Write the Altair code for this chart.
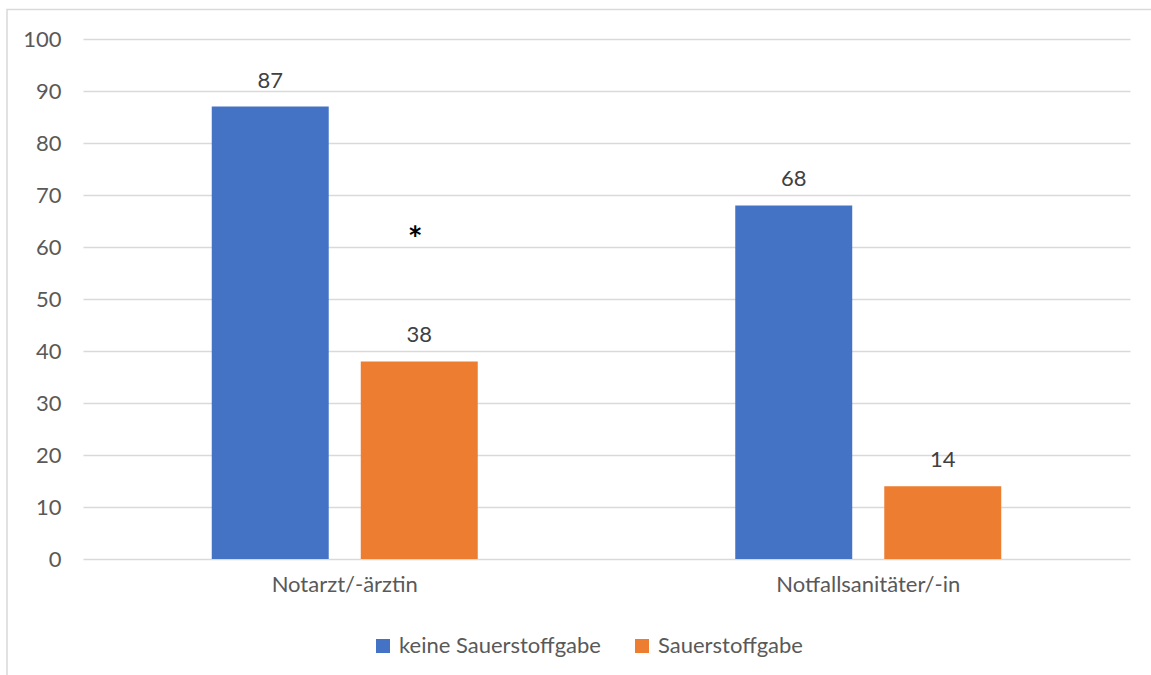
import altair as alt
import pandas as pd

categories = ["Notarzt/-ärztin", "Notfallsanitäter/-in"]
series = ["keine Sauerstoffgabe", "Sauerstoffgabe"]
values_keine = [87, 68]
values_sauer = [38, 14]
colors = ["#4472C4", "#ED7D31"]
y_ticks = [0, 10, 20, 30, 40, 50, 60, 70, 80, 90, 100]

annot_category = ["Notarzt/-ärztin"]
annot_series = ["Sauerstoffgabe"]
annot_value = [63]
annot_text = ["*"]

rows = []
for i, c in enumerate(categories):
    rows.append({"Kategorie": c, "Gruppe": series[0], "Wert": values_keine[i]})
    rows.append({"Kategorie": c, "Gruppe": series[1], "Wert": values_sauer[i]})
df = pd.DataFrame(rows)
annot = pd.DataFrame({"Kategorie": annot_category, "Gruppe": annot_series,
                      "Wert": annot_value, "Text": annot_text})

FONT = "Lato"
FS = 22
TXT = "#595959"
W, H = 1047, 520

x_enc = alt.X("Kategorie:N", sort=categories,
              scale=alt.Scale(paddingInner=0, paddingOuter=0),
              axis=alt.Axis(title=None, labelAngle=0, domain=False, ticks=False,
                            labelFont=FONT, labelFontSize=FS, labelColor=TXT,
                            labelLimit=0, labelPadding=15))
xo_enc = alt.XOffset("Gruppe:N", sort=series,
                     scale=alt.Scale(paddingInner=0.215, paddingOuter=0.864))
y_scale = alt.Scale(domain=[0, 100], nice=False)

border = alt.Chart(pd.DataFrame({"a": [0]})).mark_rect(
    fill=None, stroke="#D9D9D9", strokeWidth=1.5
).encode(x=alt.value(-76), x2=alt.value(1080), y=alt.value(-29.5), y2=alt.value(700))

bars = alt.Chart(df).mark_bar().encode(
    x=x_enc,
    xOffset=xo_enc,
    y=alt.Y("Wert:Q", scale=y_scale,
            axis=alt.Axis(title=None, values=y_ticks, domain=False, ticks=False,
                          grid=True, gridColor="#D9D9D9", gridWidth=1.5,
                          labelFont=FONT, labelFontSize=FS, labelColor=TXT,
                          labelPadding=22)),
    color=alt.Color("Gruppe:N", sort=series,
                    scale=alt.Scale(domain=series, range=colors),
                    legend=alt.Legend(title=None, orient="none", direction="horizontal",
                                      legendX=289, legendY=596, padding=0,
                                      symbolType="square", symbolSize=196,
                                      symbolStrokeWidth=0, symbolOpacity=1,
                                      labelFont=FONT, labelFontSize=FS, labelColor=TXT,
                                      labelLimit=0, labelOffset=5, columnPadding=30)),
)

labels = alt.Chart(df).mark_text(font=FONT, fontSize=FS, color="#404040",
                                 baseline="alphabetic", dy=-19).encode(
    x=x_enc, xOffset=xo_enc,
    y=alt.Y("Wert:Q", scale=y_scale),
    text=alt.Text("Wert:Q"),
)

star = alt.Chart(annot).mark_text(font=FONT, fontSize=35, fontWeight="bold",
                                  color="#000000", baseline="middle", dx=-4, dy=9).encode(
    x=x_enc, xOffset=xo_enc,
    y=alt.Y("Wert:Q", scale=y_scale),
    text="Text:N",
)

chart = alt.layer(border, bars, labels, star).properties(
    width=W, height=H,
    autosize=alt.AutoSizeParams(type="none"),
    padding={"left": 83, "top": 39, "right": 21, "bottom": 116},
    background="#FFFFFF",
).configure_view(stroke=None)

chart.save("out.html", embed_options={"renderer": "svg", "actions": False})
